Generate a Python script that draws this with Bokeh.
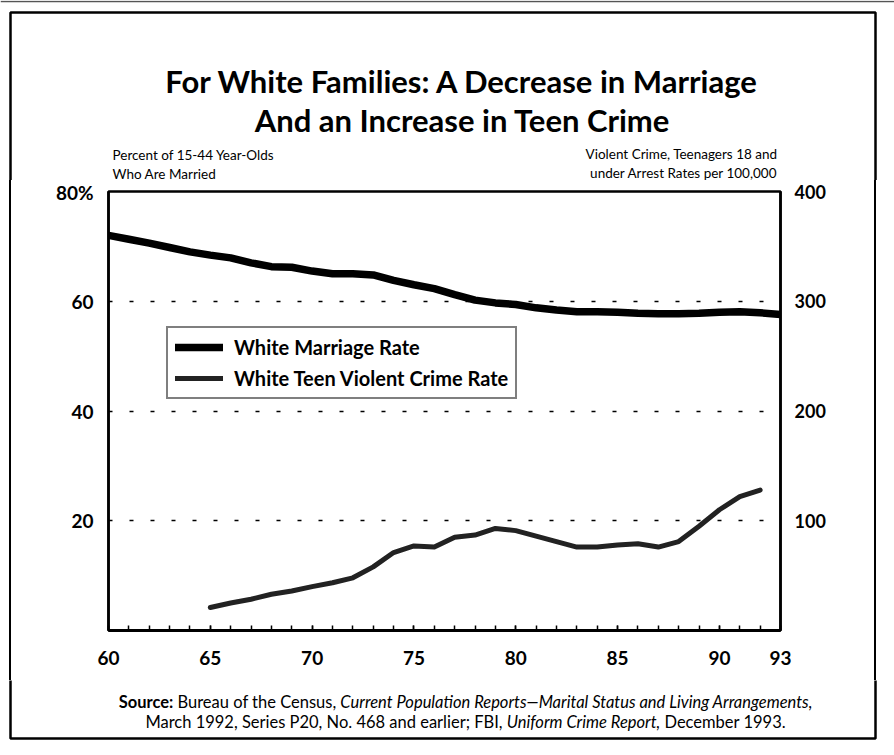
import glob
import os
import subprocess
from bokeh.plotting import figure
from bokeh.layouts import column, row
from bokeh.models import (Range1d, LinearAxis, FixedTicker, Legend, LegendItem,
                          ColumnDataSource, Div)
from bokeh.core.properties import value
from bokeh.embed import file_html
from bokeh.resources import INLINE

# ---------------- data ----------------
marriage_years = list(range(60, 94))
marriage_rate = [72.0, 71.3, 70.6, 69.8, 69.0, 68.4, 67.9, 67.0, 66.3, 66.2,
                 65.5, 65.0, 65.0, 64.8, 63.8, 63.0, 62.3, 61.2, 60.2, 59.7,
                 59.4, 58.8, 58.4, 58.1, 58.1, 58.0, 57.8, 57.7, 57.7, 57.8,
                 58.0, 58.1, 57.9, 57.6]
crime_years = list(range(65, 93))
crime_rate = [21, 25, 28.5, 33, 36, 40, 43.5, 48, 58, 71,
              77, 76, 85, 87, 93, 91, 86, 81, 76, 76,
              78, 79, 76, 81, 95, 110, 122, 128]

x_ticks = [60, 65, 70, 75, 80, 85, 90, 93]
x_minor = list(range(60, 94))
left_ticks = [20, 40, 60, 80]
right_ticks = [100, 200, 300, 400]

title_lines = ["For White Families: A Decrease in Marriage",
               "And an Increase in Teen Crime"]
left_header = ["Percent of 15-44 Year-Olds", "Who Are Married"]
right_header = ["Violent Crime, Teenagers 18 and", "under Arrest Rates per 100,000"]
legend_labels = ["White Marriage Rate", "White Teen Violent Crime Rate"]
source_lines = [
    [("Source:", "bold"), ("Bureau of the Census,", "normal"),
     ("Current Population Reports\u2014Marital Status and Living Arrangements,", "italic")],
    [("March 1992, Series P20, No. 468 and earlier; FBI,", "normal"),
     ("Uniform Crime Report,", "italic"), ("December 1993.", "normal")],
]

FONT = "Lato"
TITLE_SIZE = 31
SRC_SIZE = 16.5

# ---------------- text measuring helper ----------------
_font_files = {}
for style, pat, fc in (("normal", "Lato-Regular.ttf", "Lato:style=Regular"),
                       ("bold", "Lato-Bold.ttf", "Lato:style=Bold"),
                       ("italic", "Lato-Italic.ttf", "Lato:style=Italic")):
    path = None
    try:
        out = subprocess.run(["fc-match", "-f", "%{file}", fc], capture_output=True,
                             text=True, timeout=5).stdout.strip()
        if out and "lato" in out.lower() and os.path.exists(out):
            path = out
    except Exception:
        pass
    if path is None:
        for root in ("/usr/share/fonts", "/usr/local/share/fonts",
                     os.path.expanduser("~/.fonts"), os.path.expanduser("~/.local/share/fonts")):
            hits = glob.glob(os.path.join(root, "**", pat), recursive=True)
            if hits:
                path = hits[0]
                break
    if path:
        _font_files[style] = path

_fallback_em = {"normal": 0.45, "bold": 0.47, "italic": 0.43}


def measure(text, style, size):
    try:
        from PIL import ImageFont
        f = ImageFont.truetype(_font_files[style], size)
        return f.getlength(text)
    except Exception:
        return len(text) * size * _fallback_em[style]


# ---------------- page geometry (page pixels) ----------------
PAGE_W = 894
HEAD_H = 180          # header strip: y 0..180
MID_H = 500           # chart row: y 180..680
FOOT_H = 73           # footer strip: y 680..753
FRAME_L, FRAME_R = 10, 875     # outer frame
FRAME_T, FRAME_B = 12, 738
LEFT_W, RIGHT_W = 30, 34
MAIN_W = PAGE_W - LEFT_W - RIGHT_W   # 830 ; starts at x=30
PLOT_L, PLOT_R, PLOT_T, PLOT_B = 108, 780, 191, 630
FW = 2.5


def blank(width, height, y0, y1):
    f = figure(width=width, height=height, output_backend="svg", toolbar_location=None,
               x_range=Range1d(0, width), y_range=Range1d(y1, y0),
               x_axis_type=None, y_axis_type=None, min_border=0,
               background_fill_color="white", border_fill_color="white")
    f.outline_line_color = None
    f.grid.visible = False
    return f


# ---------------- header ----------------
head = blank(PAGE_W, HEAD_H, 0, HEAD_H)
head.line(x=[0, PAGE_W], y=[1, 1], line_color="#555555", line_width=1.5)
head.multi_line(xs=[[FRAME_L, FRAME_L, FRAME_R, FRAME_R]],
                ys=[[HEAD_H + 2, FRAME_T, FRAME_T, HEAD_H + 2]],
                line_color="black", line_width=FW)
head.text(x=[462, 462], y=[80, 119], text=title_lines,
          text_font=value(FONT), text_font_style="bold", text_font_size=f"{TITLE_SIZE}px",
          text_align="center", text_baseline="middle", text_color="black")
head.text(x=[112, 112], y=[154, 173], text=left_header,
          text_font=value(FONT), text_font_size="13.5px",
          text_align="left", text_baseline="middle", text_color="black")
head.text(x=[777, 777], y=[153, 172], text=right_header,
          text_font=value(FONT), text_font_size="13.5px",
          text_align="right", text_baseline="middle", text_color="black")


# ---------------- side strips (outer frame verticals) ----------------
def vstrip(width, line_x):
    html = ('<div style="margin:0;padding:0;margin-left:%.2fpx;width:%.1fpx;'
            'height:%dpx;background:#000;"></div>' % (line_x - FW / 2, FW, MID_H))
    return Div(text=html, width=width, height=MID_H, margin=0)


lstrip = vstrip(LEFT_W, FRAME_L)
rstrip = vstrip(RIGHT_W, FRAME_R - (LEFT_W + MAIN_W))

# ---------------- main chart ----------------
p = figure(width=MAIN_W, height=MID_H, output_backend="svg", toolbar_location=None,
           x_range=Range1d(60, 93), y_range=Range1d(0, 80),
           min_border_left=PLOT_L - LEFT_W,
           min_border_right=LEFT_W + MAIN_W - PLOT_R,
           min_border_top=PLOT_T - HEAD_H,
           min_border_bottom=HEAD_H + MID_H - PLOT_B,
           background_fill_color="white", border_fill_color="white")
p.extra_y_ranges = {"crime": Range1d(0, 400)}
p.outline_line_color = "black"
p.outline_line_width = 2.5
p.xgrid.visible = False


def style_labels(ax, standoff, size="19px"):
    ax.major_label_standoff = standoff
    ax.major_label_text_font = FONT
    ax.major_label_text_font_style = "bold"
    ax.major_label_text_font_size = size
    ax.major_label_text_color = "black"


xa = p.xaxis[0]
xa.ticker = FixedTicker(ticks=x_ticks, minor_ticks=x_minor)
xa.axis_line_width = 3
xa.major_tick_in = 5
xa.major_tick_out = 0
xa.minor_tick_in = 5
xa.minor_tick_out = 0
xa.major_tick_line_width = 1.5
xa.minor_tick_line_width = 1.5
style_labels(xa, 20)

ya = p.yaxis[0]
ya.ticker = FixedTicker(ticks=left_ticks)
ya.major_label_overrides = {80: "80%"}
ya.axis_line_width = 2.5
ya.major_tick_in = ya.major_tick_out = 0
ya.minor_tick_in = ya.minor_tick_out = 0
style_labels(ya, 15)

ra = LinearAxis(y_range_name="crime", ticker=FixedTicker(ticks=right_ticks))
ra.axis_line_width = 2.5
ra.major_tick_in = ra.major_tick_out = 0
ra.minor_tick_in = ra.minor_tick_out = 0
style_labels(ra, 14, "18px")
p.add_layout(ra, "right")

p.ygrid.ticker = FixedTicker(ticks=[20, 40, 60])
p.ygrid.grid_line_color = "black"
p.ygrid.grid_line_width = 1.5
p.ygrid.grid_line_dash = "4 17"

r_cr = p.line(crime_years, crime_rate, y_range_name="crime",
              line_color="#222222", line_width=5, line_cap="round", line_join="round")
r_mr = p.line(marriage_years, marriage_rate, line_color="black", line_width=7.5,
              line_cap="round", line_join="round")

legend = Legend(items=[LegendItem(label=legend_labels[0], renderers=[r_mr]),
                       LegendItem(label=legend_labels[1], renderers=[r_cr])],
                location=(166 - PLOT_L, PLOT_B - 399))
legend.border_line_color = "black"
legend.border_line_width = 2
legend.background_fill_color = "white"
legend.background_fill_alpha = 1
legend.label_text_font = FONT
legend.label_text_font_style = "bold"
legend.label_text_font_size = "20px"
legend.label_text_color = "black"
legend.glyph_width = 48
legend.glyph_height = 20
legend.label_height = 20
legend.label_standoff = 11
legend.spacing = 7
legend.padding = 7
legend.margin = 0
p.add_layout(legend, "center")

# ---------------- footer ----------------
foot = blank(PAGE_W, FOOT_H, 0, FOOT_H)
fb = FRAME_B - (HEAD_H + MID_H)
foot.multi_line(xs=[[FRAME_L, FRAME_L, FRAME_R, FRAME_R]],
                ys=[[-2, fb, fb, -2]], line_color="black", line_width=FW)


def line_width_of(pieces, size):
    space = measure(" ", "normal", size) if _font_files else size * 0.25
    return sum(measure(t, s, size) for t, s in pieces) + space * (len(pieces) - 1)


xs, ys, texts, styles = [], [], [], []
for i, pieces in enumerate(source_lines):
    space = measure(" ", "normal", SRC_SIZE) if _font_files else SRC_SIZE * 0.25
    total = line_width_of(pieces, SRC_SIZE)
    x = 465 - total / 2
    for t, s in pieces:
        xs.append(x)
        ys.append(21 + 20 * i)
        texts.append(t)
        styles.append(s)
        x += measure(t, s, SRC_SIZE) + space
src = ColumnDataSource(dict(x=xs, y=ys, text=texts, style=styles))
foot.text(x="x", y="y", text="text", source=src, text_font=value(FONT),
          text_font_style="style", text_font_size=f"{SRC_SIZE}px",
          text_align="left", text_baseline="middle", text_color="black")

layout = column(head, row(lstrip, p, rstrip, spacing=0), foot, spacing=0)
open("out.html", "w").write(file_html(layout, INLINE))
